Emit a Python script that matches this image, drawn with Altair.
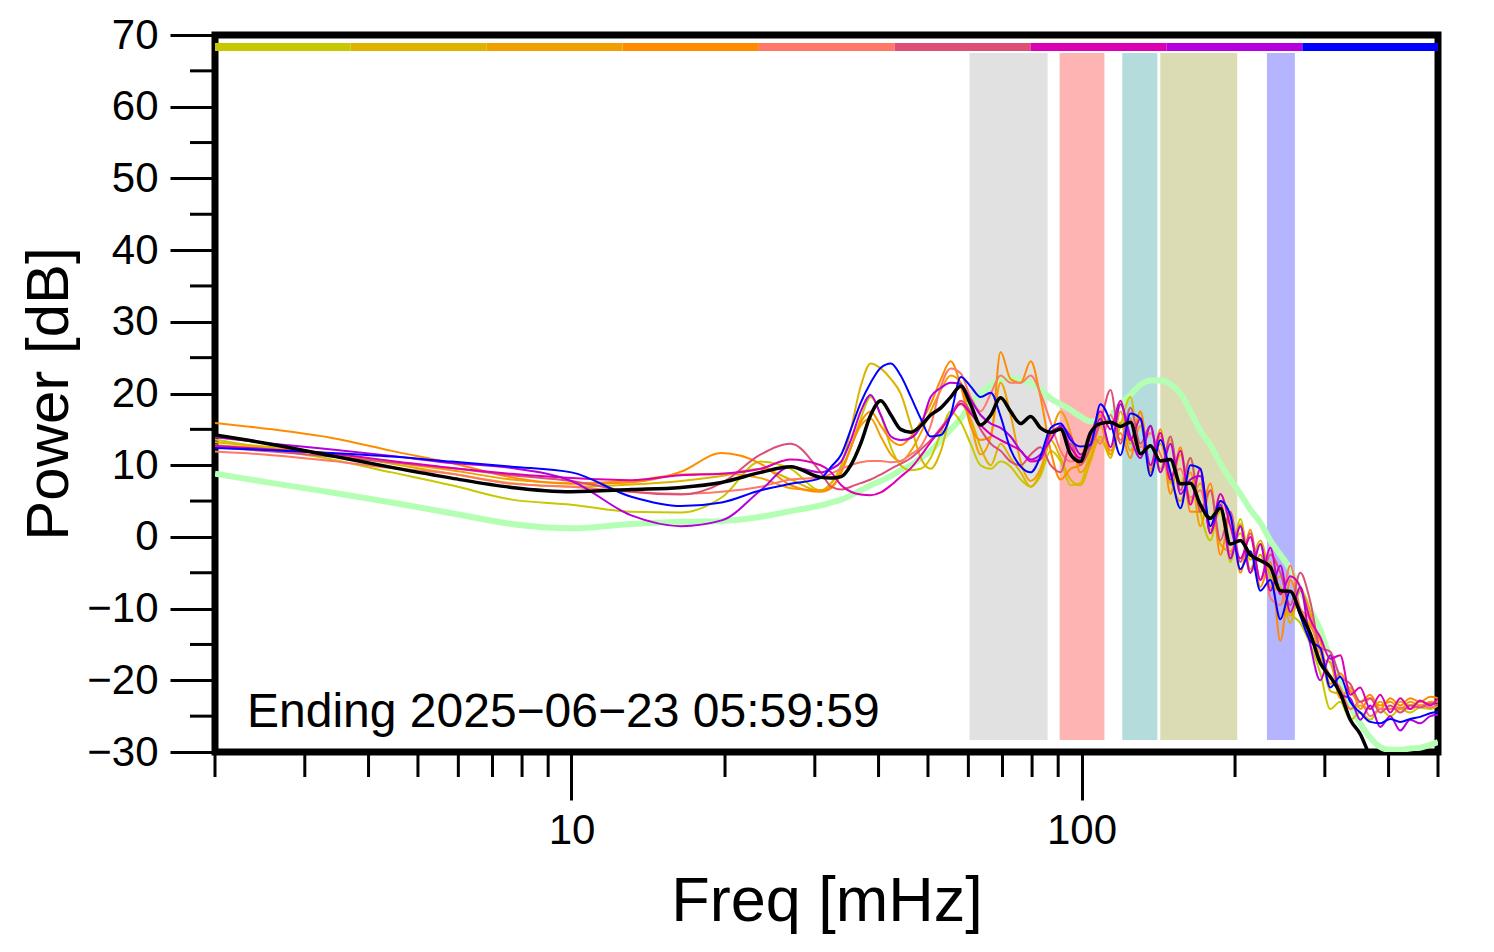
import altair as alt
import pandas as pd

# ---------------- data ----------------
FREQ = [2.0, 2.59, 3.39, 4.44, 5.82, 7.63, 10.0, 13.1, 16.4, 19.7, 23.5, 26.9, 30.8,
        32.3, 33.8, 35.3, 36.9, 38.6, 40.4, 42.3, 44.2, 46.3, 48.4, 50.6, 53.0, 55.4, 58.0,
        60.6, 63.4, 66.4, 69.4, 72.6, 76.0, 79.5, 83.1, 87.0, 91.0, 95.2, 99.5,
        104.1, 108.9, 114.0, 119.2, 124.7,
        130.5, 136.5, 142.8, 149.4, 156.3, 163.5, 171.0, 178.9, 187.2, 195.8,
        204.9, 214.3, 224.2, 234.6, 245.4, 256.7, 268.5, 280.9, 293.9, 307.4,
        321.6, 336.5, 352.0, 368.2, 385.2, 403.0, 421.6, 441.0, 461.4, 482.7, 500.0]

MEAN = [14.2, 12.9, 11.3, 9.7, 8.2, 6.9, 6.3, 6.6, 6.9, 7.6, 9.0, 9.8, 8.3,
        8.2, 8.4, 10.0, 13.0, 17.0, 19.0, 17.0, 15.0, 14.6, 15.5, 17.0, 18.0, 19.5, 21.0,
        18.5, 15.6, 17.0, 19.4, 17.5, 15.8, 16.8, 15.2, 14.6, 15.0, 11.5, 10.5,
        14.5, 15.8, 16.0, 15.4, 16.0,
        11.6, 12.7, 10.6, 10.8, 7.4, 7.5, 4.5, 2.6, 4.0, -1.0,
        -0.5, -2.5, -3.3, -4.2, -7.5, -7.6, -10.6, -13.5, -17.6, -19.5,
        -21.8, -25.5, -27.5, -30.5, -31.5, -32.0, -32.0, -32.0, -32.0, -32.0, -32.0]

MODEL = [8.8, 7.5, 6.2, 4.8, 3.3, 1.8, 1.2, 1.8, 2.1, 2.2, 2.8, 3.6, 4.4,
         4.8, 5.2, 5.8, 6.5, 7.2, 7.8, 8.5, 9.3, 10.0, 11.0, 12.0, 13.5, 15.0, 16.5,
         18.5, 20.0, 21.2, 21.9, 22.1, 21.9, 21.5, 20.5, 19.3, 18.5, 17.7, 16.8,
         16.1, 16.3, 16.8, 18.5, 19.8,
         21.2, 21.8, 21.8, 21.3, 20.0, 17.5, 14.8, 12.8, 10.2, 8.0,
         6.0, 3.8, 2.0, -0.5, -2.5, -4.5, -7.4, -10.2, -13.0, -17.0,
         -20.0, -23.5, -26.0, -28.0, -29.3, -29.7, -29.7, -29.5, -29.4, -29.0, -28.6]

S1 = [13.6, 12.2, 10.8, 9.0, 7.2, 5.2, 4.5, 3.5, 3.4, 5.5, 10.5, 9.5, 6.5,
      7.5, 9.5, 12.5, 16.5, 19.5, 17.0, 12.5, 10.0, 9.3, 9.5, 11.0, 14.5, 17.5, 16.0,
      13.0, 10.0, 9.5, 10.5, 9.8, 8.0, 7.0, 8.5, 12.0, 10.5, 7.2, 7.5,
      12.0, 13.5, 11.5, 15.5, 19.5,
      11.5, 15.5, 9.5, 13.5, 7.5, 11.0, 3.5, -0.5, 5.0, -3.5,
      2.5, -4.5, -1.0, -7.0, -5.5, -10.5, -12.0, -15.0, -19.0, -24.0,
      -23.0, -25.5, -24.5, -25.5, -24.0, -25.0, -24.0, -24.5, -23.8, -24.0, -23.5]

S2 = [13.2, 12.5, 11.6, 10.2, 8.8, 7.5, 7.0, 7.3, 7.8, 8.5, 9.5, 8.0, 6.4,
      7.5, 10.0, 15.0, 21.0, 24.2, 23.5, 22.0, 20.0, 15.5, 11.0, 9.5, 12.0, 17.0, 18.5,
      16.5, 12.5, 10.0, 13.0, 11.0, 9.0, 7.0, 9.0, 13.5, 11.0, 8.0, 7.2,
      10.5, 14.0, 11.0, 17.5, 13.0,
      17.5, 8.5, 14.0, 7.5, 11.5, 5.0, 7.5, 1.0, 3.5, -2.5,
      1.8, -3.2, -0.5, -5.5, -7.0, -12.0, -7.0, -12.0, -16.0, -21.5,
      -22.0, -24.0, -23.5, -24.0, -23.0, -24.0, -23.0, -23.5, -23.0, -23.3, -22.8]

S3 = [12.8, 12.3, 11.5, 10.4, 9.3, 8.0, 7.5, 7.8, 8.7, 8.8, 8.2, 6.8, 6.5,
      7.0, 9.0, 12.5, 15.5, 16.5, 14.0, 11.5, 10.5, 12.0, 14.5, 17.5, 20.5, 22.5, 21.5,
      16.0, 11.5, 14.0, 21.5, 17.0, 10.5, 7.8, 9.5, 14.0, 17.5, 14.5, 9.0,
      11.0, 15.5, 11.5, 16.0, 12.0,
      15.5, 9.5, 13.0, 8.0, 5.0, 9.0, 1.5, 6.5, -1.0, -2.0,
      0.5, -5.0, -2.5, -7.0, -7.5, -11.0, -7.5, -10.5, -17.0, -17.5,
      -22.5, -21.0, -24.0, -22.5, -23.5, -23.0, -24.0, -23.0, -23.5, -23.0, -23.0]

S4 = [15.9, 15.0, 13.8, 12.0, 10.3, 8.3, 7.4, 7.6, 9.1, 11.7, 10.2, 7.2, 6.3,
      6.8, 9.0, 12.5, 16.0, 17.5, 15.5, 13.5, 12.8, 14.0, 16.0, 18.5, 22.0, 24.5, 21.0,
      15.5, 13.5, 14.0, 25.8, 22.0, 21.5, 24.5, 19.5, 12.0, 8.0, 9.5, 10.0,
      13.0, 17.0, 12.0, 14.5, 11.0,
      17.5, 9.0, 15.0, 6.0, 12.5, 3.5, 3.5, 7.5, -2.5, 3.0,
      -5.0, 1.0, -7.0, -3.5, -14.5, -6.0, -10.0, -12.5, -14.5, -20.5,
      -19.0, -21.5, -23.0, -22.0, -24.0, -22.5, -23.5, -22.5, -23.0, -22.3, -22.5]

S5 = [11.9, 11.4, 10.6, 9.6, 8.8, 7.4, 7.0, 6.3, 6.0, 6.3, 7.0, 8.0, 8.3,
      8.8, 9.5, 10.0, 10.4, 10.6, 10.6, 10.4, 10.6, 11.5, 12.6, 15.5, 21.0, 23.5, 22.8,
      19.5, 17.5, 20.0, 22.5, 21.5, 21.5, 22.5, 20.0, 16.0, 12.0, 10.5, 11.0,
      14.5, 13.0, 17.0, 13.5, 16.5,
      12.5, 14.5, 11.5, 8.5, 9.5, 5.5, 6.5, 1.5, 5.0, -2.5,
      1.5, -5.0, -1.0, -8.5, -9.5, -4.0, -10.0, -11.5, -16.0, -19.5,
      -21.0, -24.0, -23.0, -25.0, -24.0, -24.0, -23.8, -24.0, -23.5, -23.8, -23.3]

S6 = [12.5, 11.9, 11.2, 10.4, 9.6, 8.6, 7.8, 6.3, 5.9, 7.5, 11.5, 13.0, 9.0,
      7.0, 6.6, 7.0, 7.5, 8.0, 8.7, 9.5, 10.2, 11.0, 12.2, 13.5, 15.2, 17.0, 19.0,
      17.5, 15.0, 13.0, 12.0, 10.5, 10.0, 11.5, 12.5, 10.0, 9.0, 13.0, 10.0,
      12.5, 16.0, 20.5, 13.0, 18.0,
      13.0, 15.5, 9.0, 14.0, 6.5, 11.0, 3.5, 6.5, -0.5, 3.5,
      -3.5, 0.5, -6.0, -2.5, -5.0, -9.5, -5.0, -9.0, -15.5, -16.0,
      -19.5, -20.5, -23.0, -22.5, -24.5, -23.5, -24.5, -23.5, -23.8, -23.2, -23.5]

S7 = [12.7, 12.2, 11.6, 10.6, 9.6, 8.8, 8.2, 7.9, 8.6, 8.8, 9.5, 10.8, 10.0,
      9.0, 7.2, 6.3, 5.9, 5.8, 6.2, 7.2, 8.4, 9.6, 11.3, 13.2, 15.0, 16.8, 18.6,
      17.2, 15.6, 14.3, 13.5, 12.8, 12.0, 10.5, 10.8, 14.5, 15.3, 12.5, 11.0,
      14.0, 17.5, 15.0, 19.0, 13.5,
      16.5, 10.0, 14.5, 8.0, 12.0, 4.5, 9.5, 0.5, 6.0, 1.5,
      -3.0, 0.0, -6.0, -1.5, -8.0, -5.5, -7.0, -11.5, -14.0, -17.0,
      -16.5, -22.0, -21.0, -24.0, -22.0, -24.5, -22.5, -24.0, -22.8, -23.5, -22.5]

S8 = [13.9, 13.0, 12.2, 11.3, 10.3, 9.6, 7.8, 3.0, 1.5, 2.3, 6.5, 9.8, 9.0,
      9.5, 10.5, 13.5, 17.5, 19.8, 17.0, 14.0, 13.5, 13.8, 15.5, 19.5, 20.8, 21.5, 21.3,
      19.2, 17.0, 15.8, 15.2, 14.0, 12.0, 10.8, 11.5, 13.5, 15.5, 14.0, 11.5,
      13.0, 16.5, 12.5, 18.5, 14.0,
      11.0, 15.5, 9.0, 13.0, 6.0, 8.0, 8.5, 0.5, 4.5, -3.0,
      1.5, -5.0, -1.0, -7.5, -4.0, -10.5, -7.0, -15.0, -20.0, -16.5,
      -22.0, -22.5, -25.5, -23.5, -26.5, -25.0, -27.0, -25.5, -26.0, -25.0, -24.8]

S9 = [12.4, 12.1, 11.7, 11.2, 10.5, 9.8, 9.0, 5.6, 4.3, 4.8, 6.5, 7.4, 8.2,
      9.8, 11.5, 15.0, 18.7, 21.5, 23.6, 24.2, 22.5, 19.5, 16.5, 14.0, 14.2, 17.0, 22.3,
      21.0, 19.5, 20.1, 16.8, 12.2, 9.8, 9.0, 11.2, 15.2, 15.8, 13.5, 12.6,
      12.8, 18.5, 16.0, 11.4, 17.2,
      16.5, 8.5, 13.5, 9.0, 4.0, 10.0, 9.5, 1.5, 5.0, 3.0,
      -4.5, -2.0, -7.5, -6.0, -11.5, -7.5, -11.0, -14.5, -15.5, -21.0,
      -19.5, -23.0, -24.5, -25.8, -26.0, -25.4, -25.8, -25.4, -25.1, -24.6, -24.4]

SERIES = [S1, S2, S3, S4, S5, S6, S7, S8, S9]
SERIES_NAMES = ["1", "2", "3", "4", "5", "6", "7", "8", "9"]
SERIES_COLORS = ["#c8c800", "#dcb400", "#f0a000", "#ff8c00", "#ff7868",
                 "#dc5078", "#dc00b4", "#b400dc", "#0000ff"]

# colour key bar along the top (one segment per series)
CBAR_EDGES = [2.0, 3.69, 6.82, 12.6, 23.3, 43.0, 79.4, 146.7, 271.0, 500.0]

# shaded frequency bands
BAND_LO = [60.3, 90.6, 120.2, 142.7, 231.0]
BAND_HI = [85.8, 110.9, 140.8, 202.0, 262.0]
BAND_COLORS = ["#e1e1e1", "#ffb4b4", "#b4dcdc", "#dcdcb4", "#b4b4ff"]

Y_MAJOR = [-30, -20, -10, 0, 10, 20, 30, 40, 50, 60, 70]
Y_MINOR = [-25, -15, -5, 5, 15, 25, 35, 45, 55, 65]
X_MAJOR = [10, 100]
X_MINOR = [2, 3, 4, 5, 6, 7, 8, 9, 20, 30, 40, 50, 60, 70, 80, 90, 200, 300, 400, 500]

ANNOT = "Ending 2025\u221206\u221223 05:59:59"

# ---------------- tables ----------------
for s in SERIES + [MEAN, MODEL]:
    assert len(s) == len(FREQ)

rows = []
for name, vals in zip(SERIES_NAMES, SERIES):
    for f, v in zip(FREQ, vals):
        rows.append({"freq": f, "db": v, "series": name})
lines_df = pd.DataFrame(rows)
mean_df = pd.DataFrame({"freq": FREQ, "db": MEAN})
model_df = pd.DataFrame({"freq": FREQ, "db": MODEL})
cbar_df = pd.DataFrame({"freq": CBAR_EDGES[:-1], "hi": CBAR_EDGES[1:], "col": SERIES_COLORS})
band_df = pd.DataFrame({"freq": BAND_LO, "hi": BAND_HI, "col": BAND_COLORS})
yminor_df = pd.DataFrame({"db": Y_MINOR})
xminor_df = pd.DataFrame({"freq": X_MINOR})
annot_df = pd.DataFrame({"t": [ANNOT]})

FONT = "Liberation Sans"
W, H = 1223, 717
xscale = alt.Scale(type="log", domain=[2, 500], nice=False)
yscale = alt.Scale(domain=[-30, 70], nice=False, zero=False)

XAXIS = alt.Axis(
    values=X_MAJOR, format="d", tickSize=48, tickWidth=3, tickColor="black",
    domain=False, grid=False, labelFontSize=42, labelFont=FONT, labelColor="black",
    labelPadding=10, title="Freq [mHz]", titleFont=FONT, titleFontSize=63,
    titleFontWeight="normal", titleColor="black", titleX=W / 2, titleY=168,
    titleBaseline="alphabetic", titleAlign="center")
YAXIS = alt.Axis(
    values=Y_MAJOR, tickSize=45, tickWidth=3, tickColor="black", domain=False,
    grid=False, labelFontSize=42, labelFont=FONT, labelColor="black", labelPadding=12,
    title="Power [dB]", titleFont=FONT, titleFontSize=60, titleFontWeight="normal",
    titleColor="black", titleAngle=270, titleX=-148, titleY=H / 2,
    titleAlign="center", titleBaseline="alphabetic")


def X(field="freq"):
    return alt.X(f"{field}:Q", scale=xscale, axis=XAXIS, title="Freq [mHz]")


def Y(field="db"):
    return alt.Y(f"{field}:Q", scale=yscale, axis=YAXIS, title="Power [dB]")


bands = alt.Chart(band_df).mark_rect().encode(
    x=X(), x2="hi:Q", y=alt.value(18), y2=alt.value(705),
    color=alt.Color("col:N", scale=None),
)

cbar = alt.Chart(cbar_df).mark_rect().encode(
    x=X(), x2="hi:Q", y=alt.value(8), y2=alt.value(16),
    color=alt.Color("col:N", scale=None),
)

model = alt.Chart(model_df).mark_line(
    color="#b4ffb4", strokeWidth=6, interpolate="monotone", clip=True
).encode(x=X(), y=Y())

lines = alt.Chart(lines_df).mark_line(
    strokeWidth=2, interpolate="monotone", clip=True
).encode(
    x=X(), y=Y(),
    color=alt.Color("series:N", scale=alt.Scale(domain=SERIES_NAMES, range=SERIES_COLORS),
                    legend=None),
)

mean = alt.Chart(mean_df).mark_line(
    color="black", strokeWidth=3.5, interpolate="monotone", clip=True
).encode(x=X(), y=Y())

yminor = alt.Chart(yminor_df).mark_rule(color="black", strokeWidth=3).encode(
    y=Y(), x=alt.value(-25), x2=alt.value(0),
)

xminor = alt.Chart(xminor_df).mark_rule(color="black", strokeWidth=3).encode(
    x=X(), y=alt.value(H), y2=alt.value(H + 25),
)

annot = alt.Chart(annot_df).mark_text(
    align="left", baseline="alphabetic", fontSize=48, font=FONT, color="black"
).encode(
    x=alt.value(32), y=alt.value(692), text="t:N",
)

chart = alt.layer(bands, cbar, model, lines, mean, yminor, xminor, annot).properties(
    width=W,
    height=H,
    background="white",
    padding={"left": 207, "top": 27, "right": 40, "bottom": 190},
    autosize=alt.AutoSizeParams(type="none"),
).configure_view(
    stroke="black", strokeWidth=7
)

chart.save("out.html", embed_options={"renderer": "svg", "actions": False})
